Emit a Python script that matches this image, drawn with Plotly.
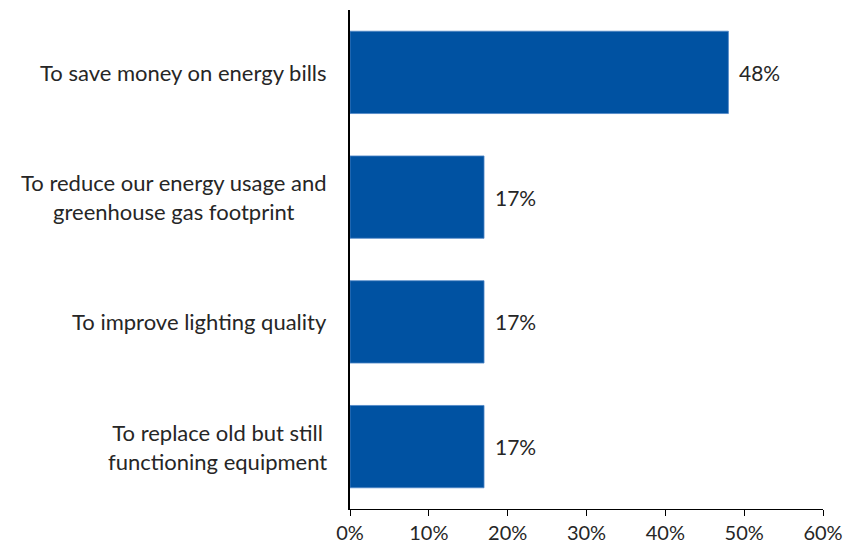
import plotly.graph_objects as go

# Reasons for upgrading lighting (share of respondents)
categories = [
    "To save money on energy bills",
    "To reduce our energy usage and<br>greenhouse gas footprint",
    "To improve lighting quality",
    "To replace old but still<br>functioning equipment",
]
values = [48, 17, 17, 17]
tick_vals = [0, 10, 20, 30, 40, 50, 60]
tick_text = ["0%", "10%", "20%", "30%", "40%", "50%", "60%"]

BAR_COLOR = "#0052A2"
TEXT_COLOR = "#262626"
FONT = "Lato, 'Open Sans', sans-serif"

fig = go.Figure()
fig.add_trace(go.Bar(
    x=values,
    y=categories,
    orientation="h",
    marker=dict(color=BAR_COLOR, line=dict(color="#4f86c6", width=0.8)),
    hoverinfo="skip",
))

# Value labels to the right of each bar
for cat, v in zip(categories, values):
    fig.add_annotation(
        x=v, y=cat, xref="x", yref="y",
        text=f"{v}%", showarrow=False,
        xanchor="left", xshift=9,
        font=dict(family=FONT, size=21, color=TEXT_COLOR),
    )

# Category labels, centred multi-line text right-aligned to the axis
for cat in categories:
    fig.add_annotation(
        x=0, y=cat, xref="paper", yref="y",
        text=cat, showarrow=False,
        xanchor="right", xshift=-21, align="center",
        font=dict(family=FONT, size=22, color=TEXT_COLOR),
    )

fig.update_layout(
    width=847, height=548,
    margin=dict(l=350, r=24, t=10, b=39),
    paper_bgcolor="white", plot_bgcolor="white",
    bargap=0.34,
    showlegend=False,
    font=dict(family=FONT, size=20, color=TEXT_COLOR),
    xaxis=dict(
        range=[0, 60],
        tickvals=tick_vals, ticktext=tick_text,
        showgrid=False, zeroline=False,
        showline=True, linecolor="black", linewidth=1,
        ticks="outside", ticklen=6, tickcolor="black", tickwidth=1,
        tickfont=dict(family=FONT, size=20, color=TEXT_COLOR),
        automargin=False,
        fixedrange=True,
    ),
    yaxis=dict(
        autorange="reversed",
        showticklabels=False,
        showgrid=False, zeroline=False,
        showline=True, linecolor="black", linewidth=1.5,
        ticks="",
        automargin=False,
        fixedrange=True,
    ),
)

fig.write_html("out.html")
